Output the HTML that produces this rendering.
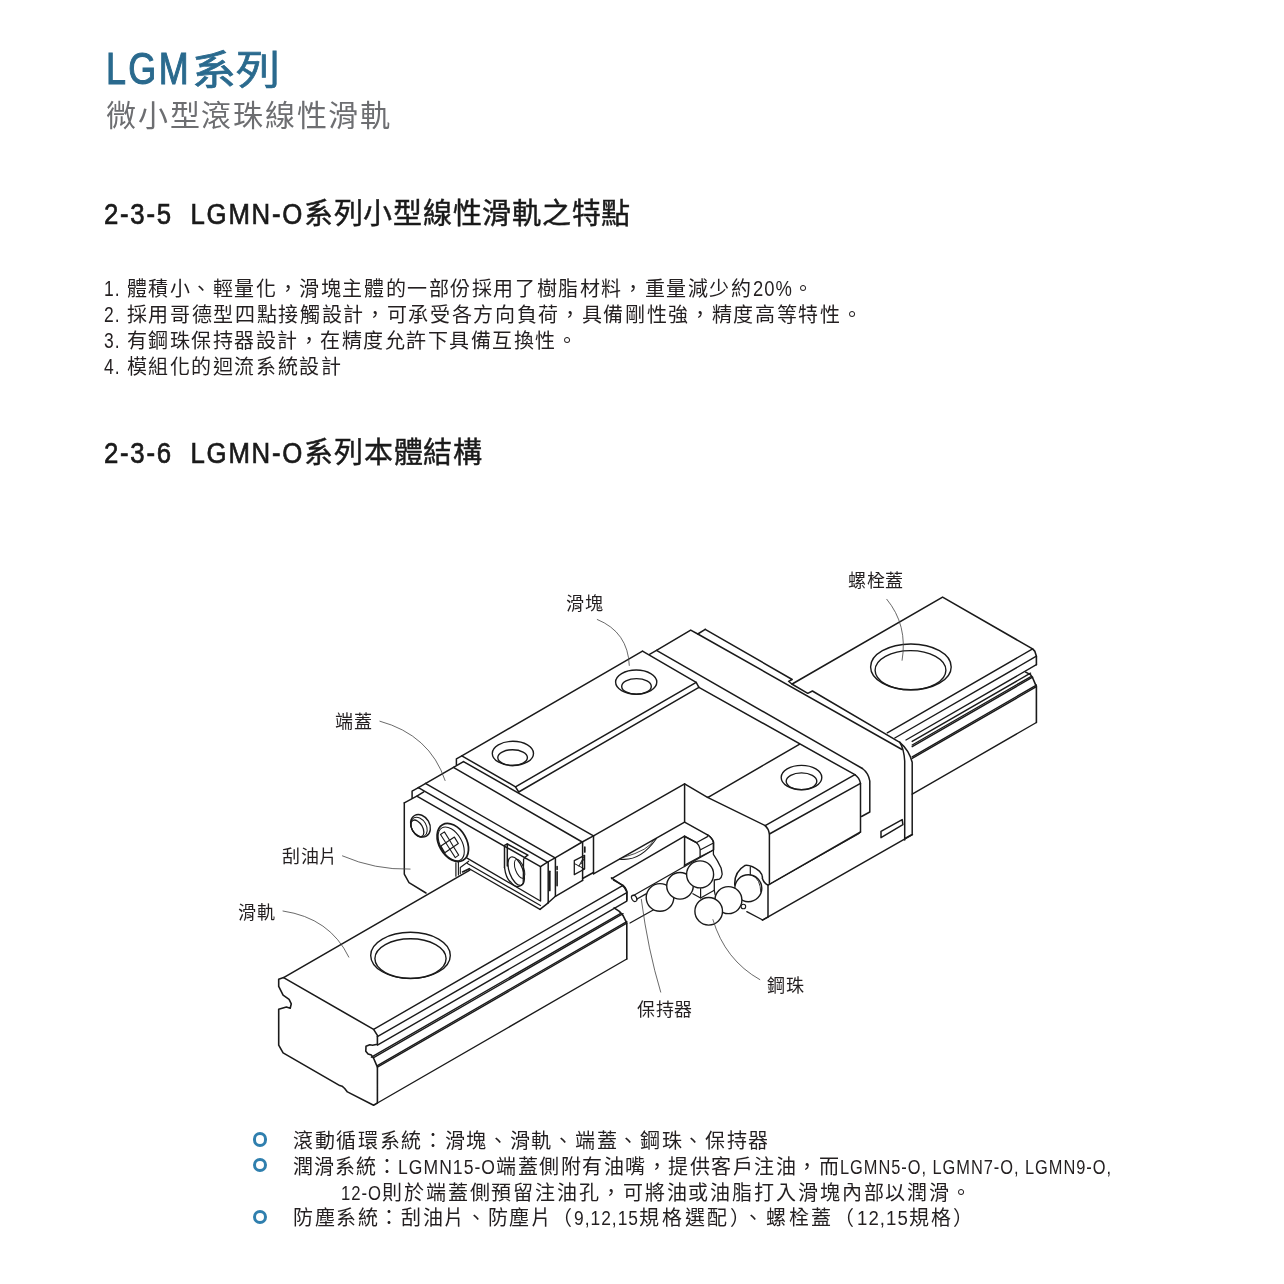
<!DOCTYPE html>
<html lang="zh-TW"><head><meta charset="utf-8">
<style>
html,body{margin:0;padding:0;background:#fff;}
body{width:1284px;height:1284px;position:relative;overflow:hidden;font-family:"Liberation Sans",sans-serif;color:#231f20;}
.t{position:absolute;white-space:nowrap;line-height:1;will-change:transform;}
.lat,.cj,.sx{display:inline-block;white-space:nowrap;transform-origin:0 0;}
#title{left:106px;top:47px;font-size:40px;color:#2a6a8e;}
#title .sx{-webkit-text-stroke:0.7px #2a6a8e;letter-spacing:0px;margin-left:1px;}
#title .lat{font-size:44.5px;letter-spacing:3px;-webkit-text-stroke:1.1px #2a6a8e;}
#sub{left:106px;top:101px;font-size:30px;color:#6d6e71;}
.h2{left:104px;font-size:29px;color:#1a1a1a;}
.h2 .cj{-webkit-text-stroke:0.45px #1a1a1a;}
.h2 .lat{font-size:30px;letter-spacing:2px;-webkit-text-stroke:0.7px #1a1a1a;}
.body{left:104px;font-size:20px;color:#231f20;}
.body .lat{font-size:21.5px;letter-spacing:1.2px;}
.lbl{font-size:18px;color:#231f20;letter-spacing:0.7px;}
.bl{font-size:20px;color:#231f20;}
.bl .lat{font-size:20.5px;letter-spacing:1.2px;}
.dot{position:absolute;width:8.2px;height:8.2px;border:3px solid #2f7fae;border-radius:50%;}
svg{position:absolute;left:0;top:0;}
</style></head><body>
<div class="t" id="title"><span class="lat" style="width:85px">LGM</span><span class="sx" style="width:88px">系列</span></div>
<div class="t" id="sub"><span class="cj" style="width:286px">微小型滾珠線性滑軌</span></div>
<div class="t h2" style="top:199px"><span class="lat" style="width:200px">2-3-5&nbsp; LGMN-O</span><span class="cj" style="width:327px">系列小型線性滑軌之特點</span></div>
<div class="t body" style="top:279px"><span class="lat" style="width:16.5px">1.</span><span style="display:inline-block;width:6px"></span><span class="cj" style="width:626px">體積小、輕量化，滑塊主體的一部份採用了樹脂材料，重量減少約</span><span class="lat" style="width:40px">20%</span>。</div>
<div class="t body" style="top:305px"><span class="lat" style="width:16.5px">2.</span><span style="display:inline-block;width:6px"></span><span class="cj" style="width:737px">採用哥德型四點接觸設計，可承受各方向負荷，具備剛性強，精度高等特性。</span></div>
<div class="t body" style="top:331px"><span class="lat" style="width:16.5px">3.</span><span style="display:inline-block;width:6px"></span><span class="cj" style="width:452px">有鋼珠保持器設計，在精度允許下具備互換性。</span></div>
<div class="t body" style="top:357px"><span class="lat" style="width:16.5px">4.</span><span style="display:inline-block;width:6px"></span><span class="cj" style="width:216px">模組化的迴流系統設計</span></div>
<div class="t h2" style="top:438px"><span class="lat" style="width:200px">2-3-6&nbsp; LGMN-O</span><span class="cj" style="width:179px">系列本體結構</span></div>
<div class="t lbl" style="left:566px;top:595px">滑塊</div>
<div class="t lbl" style="left:848px;top:572px">螺栓蓋</div>
<div class="t lbl" style="left:335px;top:713px">端蓋</div>
<div class="t lbl" style="left:282px;top:847.5px">刮油片</div>
<div class="t lbl" style="left:238px;top:903.5px">滑軌</div>
<div class="t lbl" style="left:637px;top:1000.5px">保持器</div>
<div class="t lbl" style="left:767px;top:977px">鋼珠</div>
<div class="dot" style="left:252.8px;top:1132.4px"></div>
<div class="dot" style="left:252.8px;top:1158.3px"></div>
<div class="dot" style="left:252.8px;top:1210.2px"></div>
<div class="t bl" style="left:293px;top:1130.5px"><span class="cj" style="width:477px">滾動循環系統：滑塊、滑軌、端蓋、鋼珠、保持器</span></div>
<div class="t bl" style="left:293px;top:1156.5px"><span class="cj" style="width:105px">潤滑系統：</span><span class="lat" style="width:98px">LGMN15-O</span><span class="cj" style="width:344px">端蓋側附有油嘴，提供客戶注油，而</span><span class="lat" style="width:272px">LGMN5-O, LGMN7-O, LGMN9-O,</span></div>
<div class="t bl" style="left:341px;top:1182.5px"><span class="lat" style="width:41px">12-O</span><span class="cj" style="width:591px">則於端蓋側預留注油孔，可將油或油脂打入滑塊內部以潤滑。</span></div>
<div class="t bl" style="left:293px;top:1207.5px"><span class="cj" style="width:281px">防塵系統：刮油片、防塵片（</span><span class="lat" style="width:65px">9,12,15</span><span class="cj" style="width:218px">規格選配）、螺栓蓋（</span><span class="lat" style="width:52px">12,15</span><span class="cj" style="width:66px">規格）</span></div>
<svg width="1284" height="1284" viewBox="0 0 1284 1284" fill="none" stroke="#1a1a1a" stroke-linejoin="round" stroke-linecap="round">
<path d="M283.6,977.6 L278.7,979.3 L278.7,986.4 L283.1,995.1 L289.1,999.4 L291.3,1003.8 L290.2,1008.2 L286.4,1007.1 L278.7,1009.3 L278.7,1045.2 L283.1,1052.9 L339.8,1085.6 L342.1,1086.2 L344.7,1088.5 L347.4,1091.9 L373.6,1105.2 L377.4,1103.0 L377.4,1067.1 L373.6,1058.3 L371.4,1055.1 L368.1,1054.0 L365.8,1051.2 L366.0,1046.3 L369.8,1044.8 L372.5,1045.2 L377.4,1044.2 L377.4,1035.4 L373.6,1029.4Z" stroke-width="1.6"/>
<path d="M373.6,1029.4 L623.0,885.4" stroke-width="1.4"/>
<path d="M377.4,1036.7 L626.8,892.7" stroke-width="1.4"/>
<path d="M377.4,1045.2 L626.8,901.2" stroke-width="1.4"/>
<path d="M371.4,1057.2 L620.8,913.3" stroke-width="1.4"/>
<path d="M373.6,1057.7 L623.0,913.7" stroke-width="1.4"/>
<path d="M377.4,1065.6 L626.8,921.6" stroke-width="1.4"/>
<path d="M377.4,1067.2 L626.8,923.2" stroke-width="1.4"/>
<path d="M377.4,1103.0 L626.8,959.0" stroke-width="1.4"/>
<path d="M283.6,977.6 L469.8,870.1" stroke-width="1.6"/>
<path d="M613.6,880.1 L623.0,885.4 L625.2,887.9 L626.8,891.4 L626.8,900.2" stroke-width="1.6"/>
<path d="M614.1,907.9 L619.3,911.4 L623.1,915.6 L626.8,923.1 L626.8,959.0" stroke-width="1.6"/>
<path d="M792.2,684.0 L942.6,597.1 L1032.6,648.9 L1034.9,651.4 L1036.4,656.2 L1036.4,664.7" stroke-width="1.6"/>
<path d="M1025.7,672.1 L1030.5,674.6 L1032.6,677.8 L1036.4,686.6 L1036.4,722.5" stroke-width="1.6"/>
<path d="M887.3,732.8 L1032.6,648.9" stroke-width="1.4"/>
<path d="M894.8,738.0 L1036.4,656.2" stroke-width="1.4"/>
<path d="M906.0,740.0 L1036.4,664.7" stroke-width="1.4"/>
<path d="M912.2,745.0 L1030.5,676.8" stroke-width="1.4"/>
<path d="M912.2,746.7 L1032.6,677.2" stroke-width="1.4"/>
<path d="M912.2,756.8 L1036.4,685.1" stroke-width="1.4"/>
<path d="M912.2,758.4 L1036.4,686.7" stroke-width="1.4"/>
<path d="M912.2,794.2 L1036.4,722.5" stroke-width="1.4"/>
<path d="M912.2,741.4 L1030.5,673.2" stroke-width="1.4"/>
<ellipse cx="410.5" cy="955.4" rx="39.8" ry="23.1" stroke-width="1.4"/>
<ellipse cx="410.5" cy="958.6" rx="35.6" ry="19.8" stroke-width="1.4"/>
<ellipse cx="910.9" cy="666.9" rx="40.3" ry="22.9" stroke-width="1.4"/>
<ellipse cx="910.5" cy="670.2" rx="35.4" ry="19.6" stroke-width="1.4"/>
<path d="M456.4,765.1 L456.4,758.9 L461.8,755.8 L642.5,651.2" stroke-width="1.5"/>
<path d="M461.8,755.8 L515.5,786.8 L518.7,792.0" stroke-width="1.5"/>
<path d="M515.5,786.8 L696.2,682.3" stroke-width="1.5"/>
<path d="M518.7,792.0 L698.9,687.4" stroke-width="1.5"/>
<path d="M642.5,651.2 L696.2,682.3 L698.9,687.4" stroke-width="1.5"/>
<ellipse cx="512.9" cy="753.4" rx="20.6" ry="12.1" stroke-width="1.4"/>
<ellipse cx="512.6" cy="757.6" rx="14.8" ry="7.9" stroke-width="1.4"/>
<ellipse cx="636.2" cy="682.1" rx="20.6" ry="12.1" stroke-width="1.4"/>
<ellipse cx="636.5" cy="686.4" rx="14.8" ry="7.8" stroke-width="1.4"/>
<path d="M649.5,654.3 L656.5,650.4 L690.7,630.1 L697.8,634.0 L705.2,629.3" stroke-width="1.5"/>
<path d="M697.8,634.0 L902.0,749.5" stroke-width="1.5"/>
<path d="M705.2,629.3 L792.2,679.5 L788.6,681.3 L791.8,684.0 L807.8,693.3 L812.4,691.0 L899.8,742.3" stroke-width="1.5"/>
<path d="M899.8,742.3 Q904,749 904.7,761 L904.7,840" stroke-width="1.5"/>
<path d="M899.8,742.3 Q909,750 912.2,762.2 L912.2,834.5 L905,838.5" stroke-width="1.5"/>
<path d="M656.5,650.4 L862.4,768.5" stroke-width="1.5"/>
<path d="M862.4,768.5 Q868.5,773 869.8,781 L869.8,812 L861.5,816.5" stroke-width="1.5"/>
<path d="M698.9,687.4 L854.9,774.7" stroke-width="1.5"/>
<path d="M854.9,774.7 Q859.5,778 860.5,783.4 L860.5,832" stroke-width="1.5"/>
<path d="M881.0,831.4 L902.2,819.6 L902.9,824.6 L881.0,837.6Z" stroke-width="1.5"/>
<path d="M709.4,796.6 L799.3,744.3" stroke-width="1.5"/>
<path d="M684.6,783.8 L707.5,797.4 L709.4,796.6" stroke-width="1.5"/>
<path d="M707.5,797.4 L765.2,825.6" stroke-width="1.5"/>
<path d="M765.2,825.6 Q768.5,828.5 769.4,834 L769.4,884.4" stroke-width="1.5"/>
<path d="M765.2,825.6 L854.9,774.7" stroke-width="1.5"/>
<path d="M769.4,834.0 L860.5,783.4" stroke-width="1.5"/>
<path d="M769.4,884.4 L860.5,832.0" stroke-width="1.5"/>
<path d="M768.0,885.0 L859.5,833.5" stroke-width="0.9"/>
<path d="M768.0,885.0 L768.0,916.7" stroke-width="1.5"/>
<path d="M762.4,920.2 L912.4,834.7" stroke-width="1.5"/>
<ellipse cx="801.5" cy="777.5" rx="20.3" ry="12.1" stroke-width="1.4"/>
<ellipse cx="801.5" cy="781.3" rx="15.3" ry="8.4" stroke-width="1.4"/>
<path d="M593.5,835.9 L684.6,783.8 L684.6,822.1" stroke-width="1.5"/>
<path d="M593.5,873.8 L684.6,822.1 L707.5,834.8" stroke-width="1.5"/>
<path d="M707.5,834.8 Q712.5,838 713.6,842.2 L713.6,849.7" stroke-width="1.5"/>
<path d="M697.2,842.2 L707.5,836.6" stroke-width="1.2"/>
<path d="M700.5,849.7 L713.0,843.2" stroke-width="1.2"/>
<path d="M619.6,859.1 Q640,862 656.5,838.5" stroke-width="1.1"/>
<path d="M623,857.5 Q650,850 654,839.5" stroke-width="0.8"/>
<path d="M611.7,878.7 L684.6,836.2 L684.6,866.5" stroke-width="1.5"/>
<path d="M684.6,836.2 L696.3,842.7" stroke-width="1.5"/>
<path d="M611.4,877.8 L621.7,884.8 Q625.5,887.5 626.8,891.8 L626.8,900.2" stroke-width="1.5"/>
<path d="M707.5,834.8 Q712.5,838 713.4,842.7 L713.4,854.3 Q718,861 721.1,868 Q722.5,874.8 722,874.8 Q721.5,878 719.4,879.1 L714.3,880 L714.3,890.3" stroke-width="1.3"/>
<path d="M684.3,836.3 L696.7,842.7" stroke-width="1.3"/>
<path d="M696.7,842.7 Q699.5,845.5 700.1,849.1 L700.1,856.8" stroke-width="1.3"/>
<path d="M700.1,856.8 L713.4,850.0" stroke-width="1.2"/>
<path d="M684.3,865.4 L700.1,856.8" stroke-width="1.2"/>
<path d="M700.6,888.5 L700.6,898.0" stroke-width="1.2"/>
<path d="M692.9,893.7 L700.6,898.0 L714.3,890.3" stroke-width="1.2"/>
<path d="M714.3,890.3 L715.1,894.6" stroke-width="1.2"/>
<path d="M633.5,895.5 L713.4,850.0" stroke-width="1.3"/>
<path d="M636.6,899.3 L646.0,893.9" stroke-width="1.3"/>
<path d="M630.0,923.0 L655.0,909.0" stroke-width="1.3"/>
<ellipse cx="634.2" cy="898.3" rx="2.4" ry="3.4" transform="rotate(-30 634.2 898.3)" stroke-width="1.2"/>
<circle cx="660.0" cy="897.4" r="13.8" fill="#fff" stroke-width="1.4"/>
<circle cx="680.0" cy="885.8" r="13.3" fill="#fff" stroke-width="1.4"/>
<circle cx="700.1" cy="874.4" r="13.5" fill="#fff" stroke-width="1.4"/>
<circle cx="748.3" cy="888.2" r="13.5" fill="#fff" stroke-width="1.4"/>
<circle cx="728.4" cy="900.1" r="13.5" fill="#fff" stroke-width="1.4"/>
<circle cx="708.7" cy="911.3" r="13.8" fill="#fff" stroke-width="1.4"/>
<path d="M734.8,885.1 Q734,872 745.1,865.4 Q751,864.5 759.7,871.4 Q763,875 762.3,878.3 Q764,883.5 768.3,885.1" stroke-width="1.5"/>
<path d="M750.3,866.7 L750.3,874.8" stroke-width="1.2"/>
<path d="M752.5,875.5 Q760.5,879 760.8,892" stroke-width="0.9"/>
<circle cx="743.4" cy="906.5" r="2.3" fill="#fff" stroke-width="1.1"/>
<path d="M746.8,911.7 L762.7,920.0 L768.3,916.8" stroke-width="1.4"/>
<path d="M416.8,796.2 L540.5,866.7" stroke-width="1.5"/>
<path d="M404.3,802.8 L416.8,796.2 L423.8,791.9" stroke-width="1.5"/>
<path d="M412.1,798.2 L412.1,791.2 L418.4,787.6" stroke-width="1.5"/>
<path d="M418.4,787.6 L547.5,862.2" stroke-width="1.5"/>
<path d="M418.4,787.6 L463.5,761.6" stroke-width="1.5"/>
<path d="M425.4,783.4 L555.1,857.9" stroke-width="1.5"/>
<path d="M453.4,767.4 L582.2,842.0" stroke-width="1.5"/>
<path d="M463.5,761.6 L593.5,835.9" stroke-width="1.5"/>
<path d="M540.5,866.7 L547.5,862.2 L555.1,857.9 L582.2,842.0 L593.5,835.9" stroke-width="1.5"/>
<path d="M540.5,866.7 L540.5,901.0" stroke-width="1.5"/>
<path d="M548.2,862.2 L548.2,902.8" stroke-width="1.5"/>
<path d="M555.4,857.9 L555.4,896.3" stroke-width="1.5"/>
<path d="M582.6,842.0 L582.6,880.4" stroke-width="1.5"/>
<path d="M593.5,835.9 L593.5,873.8" stroke-width="1.5"/>
<path d="M540.0,909.4 L548.2,902.8" stroke-width="1.5"/>
<path d="M548.2,902.8 L555.4,896.3" stroke-width="1.5"/>
<path d="M555.4,896.3 L582.6,880.4" stroke-width="1.5"/>
<path d="M582.6,878.5 L593.5,872.5" stroke-width="1.5"/>
<path d="M574.3,860.6 L584.6,855.4 L584.6,869.0 L574.3,874.6Z" stroke-width="1.3"/>
<path d="M574.3,863.5 L584.6,869 M579,866 L583.5,857.5 M581,864 L584,859" stroke-width="1.0"/>
<path d="M557.1,866.6 L557.1,869.4 M557.1,871.8 L557.1,885.8" stroke-width="1.6"/>
<path d="M549.8,871.3 L549.8,890.5" stroke-width="1.7"/>
<path d="M584.8,847 L584.8,852" stroke-width="1.7"/>
<path d="M404.3,802.8 L404.3,874.1 L409,882.7 L426,893" stroke-width="1.5"/>
<path d="M467.1,858.1 L539.5,900.5" stroke-width="1.3"/>
<path d="M467.4,863.4 L540.5,905.5" stroke-width="1.2"/>
<path d="M469.3,868.7 L540.0,909.4" stroke-width="1.3"/>
<path d="M455.9,862.8 L455.9,876.2" stroke-width="1.2"/>
<path d="M458.4,861.5 L458.4,875.0" stroke-width="1.1"/>
<path d="M460.3,873.7 L460.3,867.5 L468.7,861.2" stroke-width="1.1"/>
<path d="M462.5,872.0 L469.3,868.7" stroke-width="1.6"/>
<path d="M504.5,867.4 L504.5,845.4 L507.3,844.0 L527.9,855.2 L524.5,857.5 L525.0,858.5" stroke-width="1.5"/>
<path d="M507.3,844.0 L507.3,866.0" stroke-width="1.5"/>
<path d="M504.5,867.4 Q506,879 511,882.3 Q514.5,886.5 517.6,886.5 Q522,886 523.2,883.3 L523.6,859" stroke-width="1.3"/>
<ellipse cx="516.2" cy="871.1" rx="6.8" ry="15.0" transform="rotate(-20 516.2 871.1)" stroke-width="1.3"/>
<ellipse cx="519.6" cy="868.8" rx="4.2" ry="10.0" transform="rotate(-20 519.6 868.8)" stroke-width="1.0"/>
<ellipse cx="420.45" cy="825.8" rx="9.2" ry="11.9" transform="rotate(-30 420.45 825.8)" stroke-width="1.4"/>
<ellipse cx="419.0" cy="827.0" rx="7.3" ry="10.5" transform="rotate(-30 419.0 827.0)" stroke-width="1.0"/>
<ellipse cx="417.4" cy="828.4" rx="5.25" ry="9.15" transform="rotate(-30 417.4 828.4)" stroke-width="1.3"/>
<ellipse cx="452.8" cy="842.5" rx="13.7" ry="20.6" transform="rotate(-30 452.8 842.5)" stroke-width="1.8"/>
<ellipse cx="451.2" cy="843.9" rx="10.7" ry="18.5" transform="rotate(-30 451.2 843.9)" stroke-width="1.1"/>
<path d="M445.8,842.8 L440.5,834.5 L444.4,831.9 L449.6,840.3 M449.9,849.2 L455.3,857.6 L458.7,855.1 L453.5,846.7 M445.8,842.8 L449.9,849.2 M449.6,840.3 L453.5,846.7" stroke-width="1.1"/>
<path d="M440.9,846.1 L454.4,837.1 L458.3,843.5 L444.8,852.7Z" stroke-width="1.2"/>
<path d="M597.3,619.5 Q628,632 629.3,665.4" stroke="#444" stroke-width="0.8"/>
<path d="M886.8,599.3 Q908,625 902.1,660.3" stroke="#444" stroke-width="0.8"/>
<path d="M379.9,721.2 Q430,735 445.1,780.5" stroke="#444" stroke-width="0.8"/>
<path d="M342.5,855.9 Q375,870 410.1,869.1" stroke="#444" stroke-width="0.8"/>
<path d="M283,911 Q330,918 348.8,957.1" stroke="#444" stroke-width="0.8"/>
<path d="M641.3,899.3 Q648,950 660.7,992.1" stroke="#444" stroke-width="0.8"/>
<path d="M759.8,979.6 Q725,960 712.9,919.6" stroke="#444" stroke-width="0.8"/>
</svg>
<script>
(function(){
  var els=document.querySelectorAll('.lat,.sx');
  for(var i=0;i<els.length;i++){
    var e=els[i]; var w=parseFloat(e.style.width);
    e.style.width='auto';
    var nat=e.getBoundingClientRect().width;
    e.style.transform='scaleX('+(w/nat)+')';
    e.style.marginRight=(w-nat)+'px';
  }
  var cs=document.querySelectorAll('.cj');
  for(var i=0;i<cs.length;i++){
    var e=cs[i]; var w=parseFloat(e.style.width);
    e.style.width='auto';
    var nat=e.getBoundingClientRect().width;
    var n=e.textContent.length;
    e.style.letterSpacing=((w-nat)/n)+'px';
  }
})();
</script>
</body></html>
